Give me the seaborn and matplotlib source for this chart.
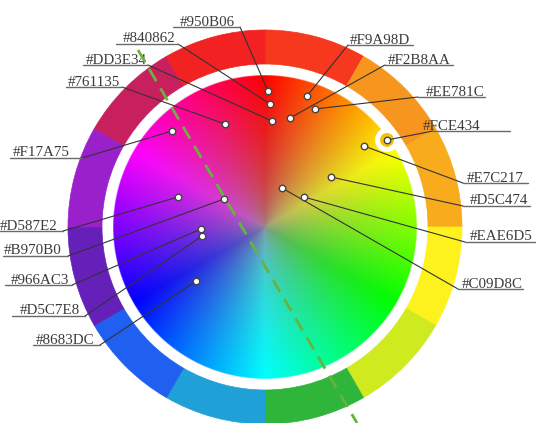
import numpy as np
import matplotlib
matplotlib.use('Agg')
import matplotlib.pyplot as plt
from matplotlib.patches import Wedge, Circle
from matplotlib.colors import hsv_to_rgb
import seaborn as sns

# Roda de cores (pixels da imagem)
cx, cy = 265, 227
r_disco = 152
r_anel_in, r_anel_out = 163, 197

# cores do anel externo, sentido horario a partir do topo
cores_anel = ['#F5381E', '#F6961E', '#F8AB1D', '#FEF21E', '#CFEA1E', '#2EB53A',
              '#1FA0D6', '#2060F0', '#6420B8', '#9A20CC', '#C8205F', '#F22222']

# pontos e rotulos
rotulos = ['#950B06', '#840862', '#DD3E34', '#761135', '#F17A75', '#D587E2',
           '#B970B0', '#966AC3', '#D5C7E8', '#8683DC',
           '#F9A98D', '#F2B8AA', '#EE781C', '#FCE434', '#E7C217', '#D5C474',
           '#EAE6D5', '#C09D8C']
pt_x = [268, 270, 272, 225, 172, 178, 224, 201, 202, 196,
        307, 290, 315, 387, 364, 331, 304, 282]
pt_y = [91, 104, 121, 124, 131, 197, 199, 229, 236, 281,
        96, 118, 109, 140, 146, 177, 197, 188]
lado = ['e'] * 10 + ['d'] * 8
texto_x = [180, 123, 86, 68, 13, 0, 4, 11, 20, 36,
           350, 388, 426, 423, 467, 470, 470, 462]
linha_y = [27, 44, 65, 87, 158, 231, 256, 285, 316, 345,
           45, 65, 97, 131, 183, 206, 242, 289]
linha_x0 = [173, 116, 83, 66, 10, 0, 3, 5, 12, 33,
            348, 385, 418, 433, 463, 463, 465, 458]
linha_x1 = [240, 178, 148, 122, 82, 63, 68, 72, 85, 100,
            413, 453, 485, 510, 528, 530, 535, 523]

# linha tracejada
guia_x = [138, 357]
guia_y = [50, 423]

sns.set_style('white')

fig = plt.figure(figsize=(5.36, 4.23), dpi=100)
ax = fig.add_axes([0, 0, 1, 1])
ax.set_xlim(0, 536)
ax.set_ylim(423, 0)
ax.axis('off')

# anel
for i, c in enumerate(cores_anel):
    ax.add_patch(Wedge((cx, cy), r_anel_out, 30 * i - 90, 30 * (i + 1) - 90,
                       width=r_anel_out - r_anel_in, facecolor=c, edgecolor=c,
                       linewidth=0.5, zorder=1))

# disco de matiz
n = 2 * r_disco * 2
coords = np.linspace(-r_disco, r_disco, n)
gx, gy = np.meshgrid(coords, coords)
rr = np.sqrt(gx ** 2 + gy ** 2)
ang = (np.degrees(np.arctan2(gx, -gy)) % 360) / 360.0
hsv = np.stack([ang, np.ones_like(ang), np.ones_like(ang)], axis=-1)
puro = hsv_to_rgb(hsv)
f = np.clip(rr / r_disco, 0, 1) ** 0.5
cinza = np.array([0.58, 0.56, 0.58])
rgb = cinza + (puro - cinza) * f[..., None]
alpha = np.clip((r_disco - rr) / (coords[1] - coords[0]) + 0.5, 0, 1)
img = np.dstack([rgb, alpha])
ax.imshow(img, extent=(cx - r_disco, cx + r_disco, cy + r_disco, cy - r_disco),
          origin='upper', interpolation='bilinear', zorder=2)

# destaque do ponto #FCE434
k = rotulos.index('#FCE434')
ax.add_patch(Circle((pt_x[k], pt_y[k]), 12, facecolor='white', edgecolor='none', zorder=3))
ax.add_patch(Circle((pt_x[k], pt_y[k]), 7, facecolor='#F3C40A', edgecolor='none', zorder=3.5))

# rotulos, sublinhado e linhas de ligacao
for i, nome in enumerate(rotulos):
    ax.text(texto_x[i], linha_y[i] - 1.5, nome, ha='left', va='baseline',
            fontsize=10.8, family='Liberation Serif', color='#3a3a3a', zorder=6)
    ax.plot([linha_x0[i], linha_x1[i]], [linha_y[i], linha_y[i]],
            color='#6a6a6a', linewidth=1.0, zorder=6)
    ancx = linha_x1[i] if lado[i] == 'e' else linha_x0[i]
    ax.plot([ancx, pt_x[i]], [linha_y[i], pt_y[i]], color='#333333',
            linewidth=0.8, zorder=4)

ax.plot(guia_x, guia_y, color='#6AB23E', linewidth=2.0, dashes=(5, 3), zorder=7)

sns.scatterplot(x=pt_x, y=pt_y, ax=ax, s=22, color='white', edgecolor='#444444',
                linewidth=1.0, zorder=8)

fig.savefig('out.png', dpi=100)
